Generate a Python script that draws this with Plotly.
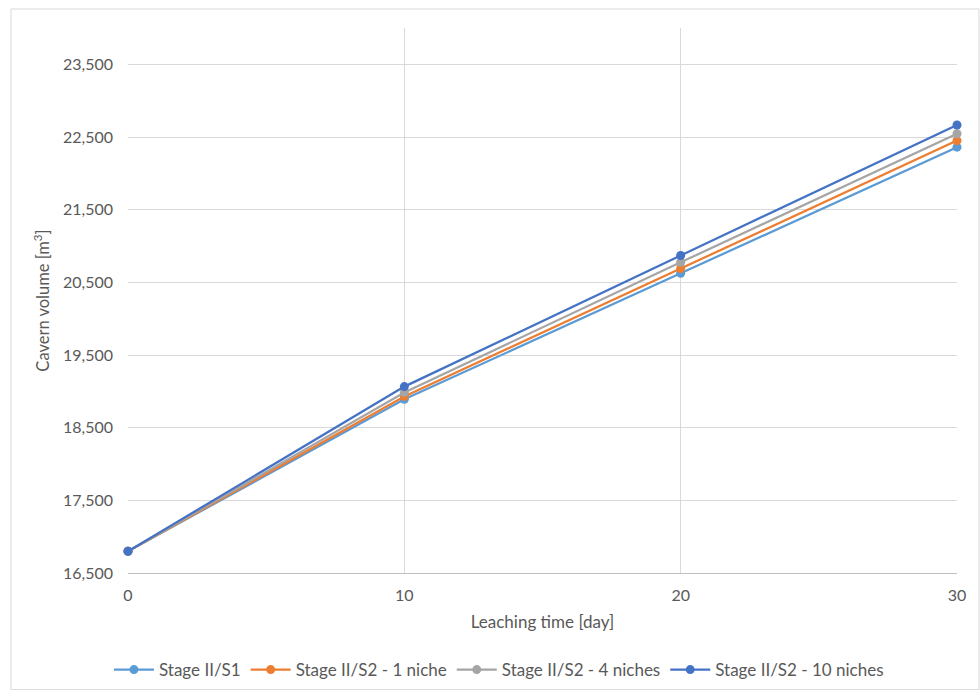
import plotly.graph_objects as go

days = [0, 10, 20, 30]
series_names = ["Stage II/S1", "Stage II/S2 - 1 niche", "Stage II/S2 - 4 niches", "Stage II/S2 - 10 niches"]
s1 = [16800, 18890, 20625, 22360]
s2_1 = [16800, 18930, 20690, 22450]
s2_4 = [16800, 18985, 20775, 22545]
s2_10 = [16800, 19065, 20870, 22665]
colors = ["#5B9BD5", "#ED7D31", "#A5A5A5", "#4472C4"]
y_ticks = [16500, 17500, 18500, 19500, 20500, 21500, 22500, 23500]

FONT = "Lato"
fig = go.Figure()
for name, vals, col in zip(series_names, [s1, s2_1, s2_4, s2_10], colors):
    fig.add_trace(go.Scatter(x=days, y=vals, name=name, mode="lines+markers",
                             line=dict(color=col, width=2.25), cliponaxis=False,
                             marker=dict(color=col, size=9)))

fig.update_layout(
    width=980, height=690,
    margin=dict(l=128, r=23, t=28, b=117, autoexpand=False),
    paper_bgcolor="white", plot_bgcolor="white",
    font=dict(family=FONT, size=14, color="#595959"),
    showlegend=True,
    legend=dict(orientation="h", x=0.4475, xanchor="center", y=-0.178, yanchor="middle",
                font=dict(size=17, color="#595959"), itemwidth=40),
    xaxis=dict(range=[0, 30], tickvals=days, showgrid=True, gridcolor="#D9D9D9", gridwidth=1,
               zeroline=False, showline=True, linecolor="#BFBFBF", linewidth=1, automargin=False,
               ticks="", tickfont=dict(size=16), ticklabelstandoff=8,
               title=dict(text="Leaching time [day]", font=dict(size=17), standoff=12)),
    yaxis=dict(range=[16500, 24000], tickvals=y_ticks, tickformat=",d", showgrid=True,
               gridcolor="#D9D9D9", gridwidth=1, zeroline=False, showline=False, automargin=False,
               ticks="", tickfont=dict(size=16), ticklabelstandoff=14,
               title=dict(text="Cavern volume [m<sup>3</sup>]", font=dict(size=16.5), standoff=9)),
    shapes=[dict(type="rect", xref="paper", yref="paper", x0=-0.1411, x1=1.0265, y0=-0.214, y1=1.0349,
                 line=dict(color="#D9D9D9", width=1), layer="below")],
)

fig.write_html("out.html")
